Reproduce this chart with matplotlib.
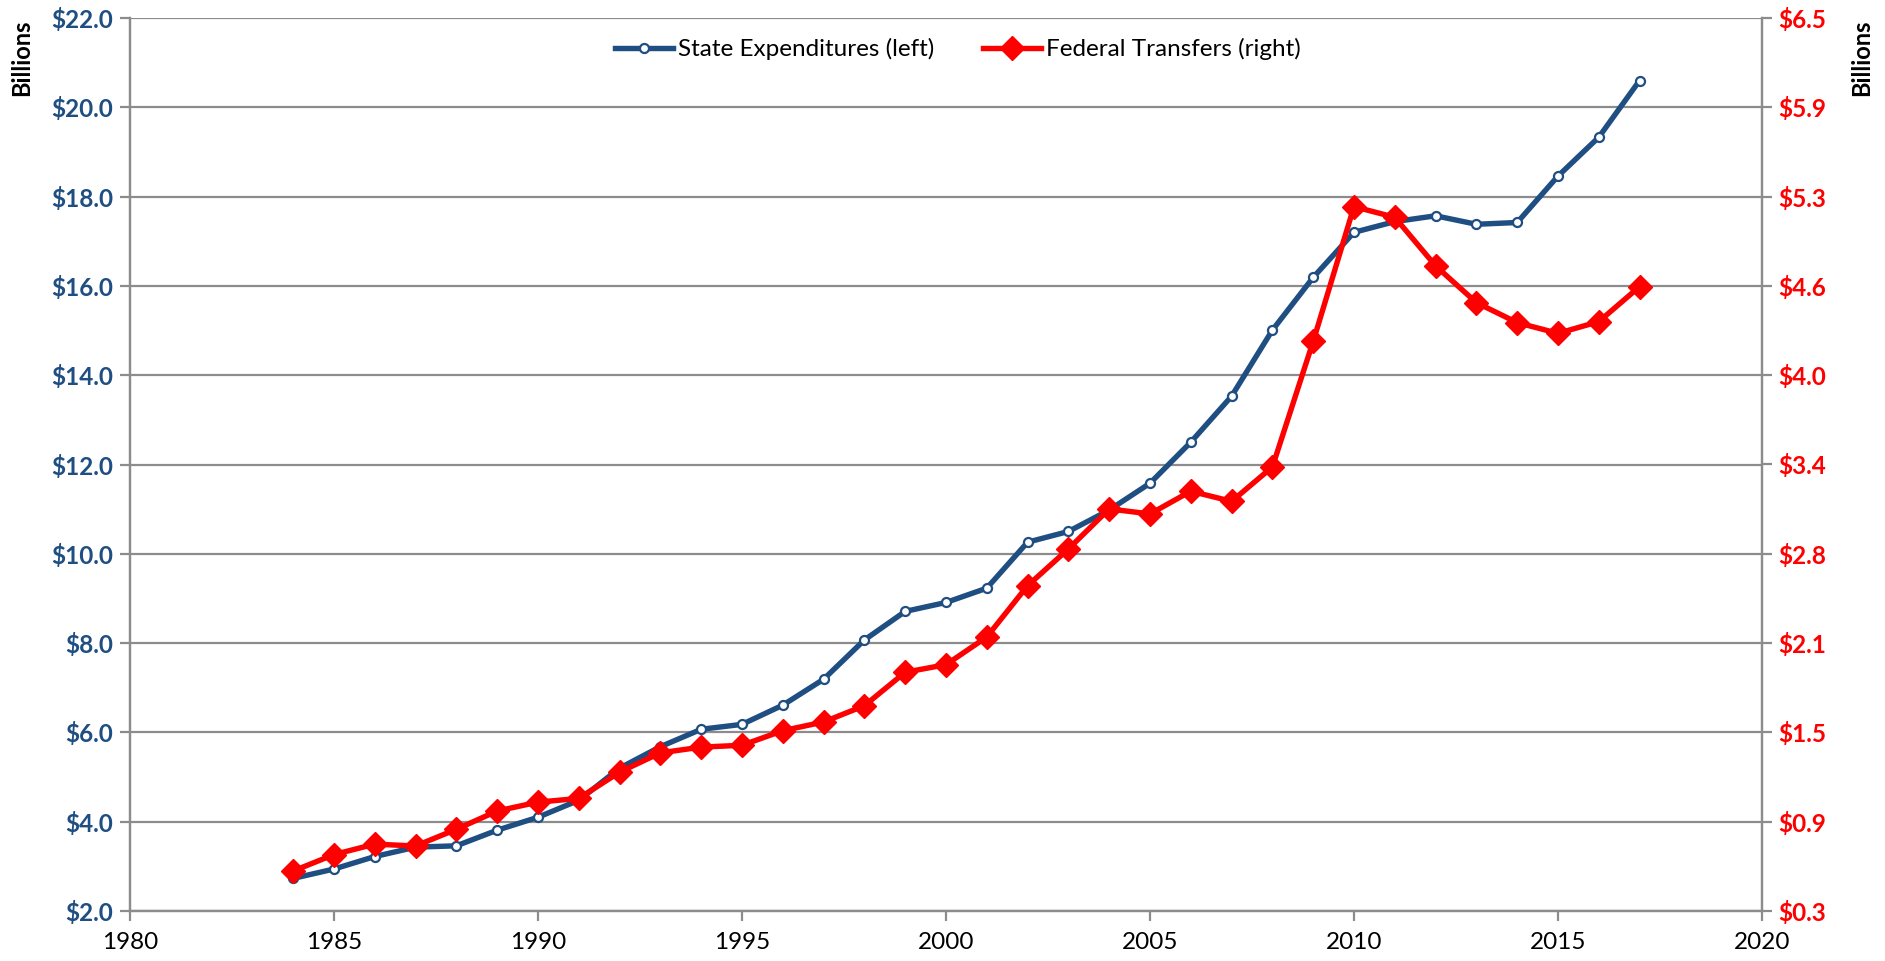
import matplotlib
matplotlib.use("Agg")
import matplotlib.pyplot as plt
import numpy as np

years = list(range(1984, 2018))
state_exp = [2.73, 2.94, 3.22, 3.43, 3.46, 3.81, 4.10, 4.48, 5.20, 5.68, 6.07, 6.18,
             6.61, 7.19, 8.07, 8.71, 8.91, 9.23, 10.26, 10.50, 10.98, 11.58, 12.50,
             13.53, 15.01, 16.19, 17.20, 17.44, 17.57, 17.38, 17.42, 18.46, 19.33, 20.60]
fed_transfers = [0.53, 0.645, 0.718, 0.705, 0.822, 0.95, 1.012, 1.038, 1.222, 1.357,
                 1.397, 1.41, 1.512, 1.573, 1.687, 1.921, 1.974, 2.168, 2.527, 2.784,
                 3.064, 3.029, 3.188, 3.117, 3.358, 4.237, 5.18, 5.105, 4.765, 4.508,
                 4.368, 4.293, 4.375, 4.62]

left_ticks = [2.0, 4.0, 6.0, 8.0, 10.0, 12.0, 14.0, 16.0, 18.0, 20.0, 22.0]
left_labels = ["$2.0", "$4.0", "$6.0", "$8.0", "$10.0", "$12.0", "$14.0", "$16.0",
               "$18.0", "$20.0", "$22.0"]
right_labels = ["$0.3", "$0.9", "$1.5", "$2.1", "$2.8", "$3.4", "$4.0", "$4.6",
                "$5.3", "$5.9", "$6.5"]
x_ticks = [1980, 1985, 1990, 1995, 2000, 2005, 2010, 2015, 2020]

BLUE = "#1F4E82"
RED = "#FF0000"
GRID = "#8C8C8C"

plt.rcParams['font.family'] = ['Lato', 'DejaVu Sans']

fig = plt.figure(figsize=(18.85, 9.61), dpi=100)
ax = fig.add_axes([130/1885, 1 - 911/961, (1762-130)/1885, (911-18)/961])
ax2 = ax.twinx()

ax.set_xlim(1980, 2020)
ax.set_ylim(2.0, 22.0)
ax2.set_ylim(0.25, 6.5)

ax.set_yticks(left_ticks)
ax.set_yticklabels(left_labels, color=BLUE, fontweight='bold', fontsize=17.5)
ax2.set_yticks(np.linspace(0.25, 6.5, 11))
ax2.set_yticklabels(right_labels, color=RED, fontweight='bold', fontsize=17.5)
ax.set_xticks(x_ticks)
ax.set_xticklabels([str(x) for x in x_ticks], fontsize=17.5, color='black')

ax.grid(axis='y', color=GRID, linewidth=1.6)
ax.set_axisbelow(True)

for a in (ax, ax2):
    a.spines['top'].set_visible(False)
    for s in ['left', 'right', 'bottom']:
        a.spines[s].set_color(GRID)
        a.spines[s].set_linewidth(1.6)
    a.tick_params(color=GRID, width=1.6, length=7)

ax.tick_params(axis='y', pad=5)
ax2.tick_params(axis='y', pad=5)
ax.tick_params(axis='x', pad=8)

l1, = ax.plot(years, state_exp, color=BLUE, linewidth=3.9, marker='o',
              markersize=6.5, markerfacecolor='white', markeredgecolor=BLUE,
              markeredgewidth=1.6, label='State Expenditures (left)', zorder=3)
l2, = ax2.plot(years, fed_transfers, color=RED, linewidth=3.9, marker='D',
               markersize=12.5, markerfacecolor=RED, markeredgecolor=RED,
               label='Federal Transfers (right)', zorder=4)

fig.legend(handles=[l1, l2], loc='center', bbox_to_anchor=(0.508, 1 - 49/961),
           ncol=2, frameon=False, fontsize=17.5, handlelength=2.4,
           columnspacing=2.0, handletextpad=0.2)

fig.text(22/1885, 1 - 58/961, "Billions", rotation=90, ha='center', va='center',
         fontsize=17, fontweight='bold', color='black')
fig.text(1862/1885, 1 - 58/961, "Billions", rotation=90, ha='center', va='center',
         fontsize=17, fontweight='bold', color='black')

fig.savefig("out.png", dpi=100)
